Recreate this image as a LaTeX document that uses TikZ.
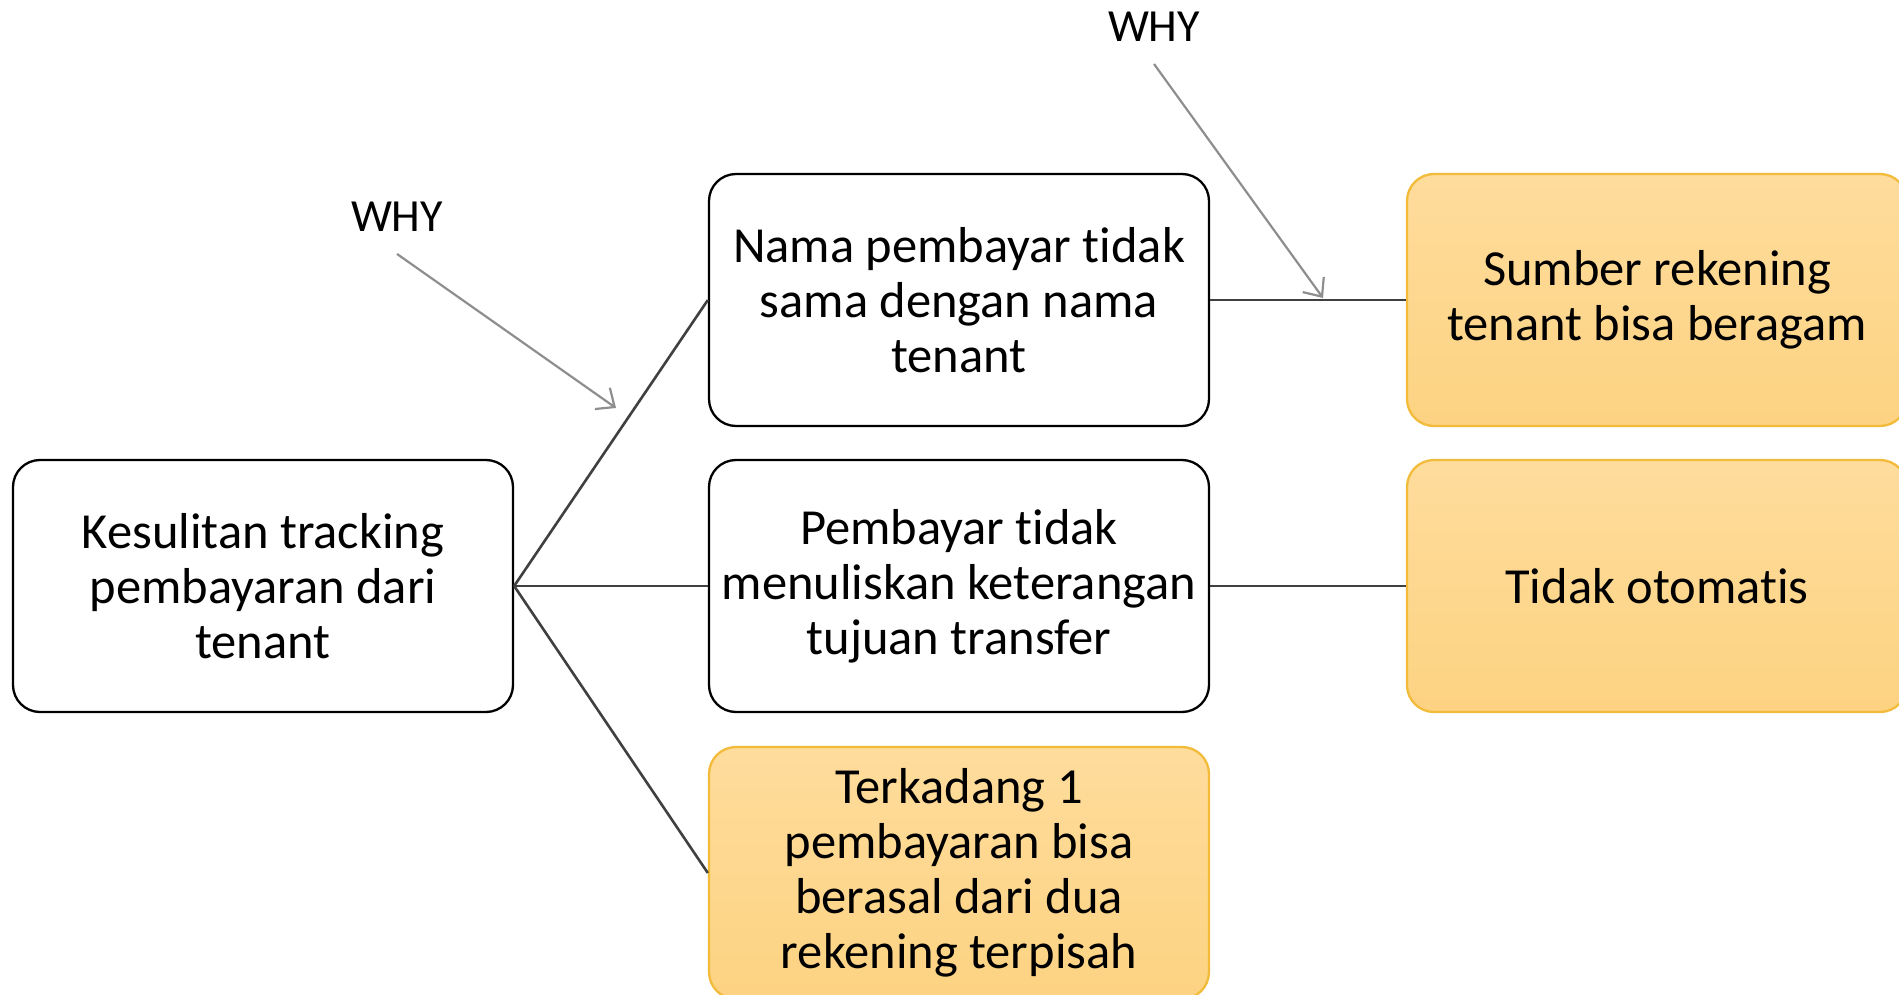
\documentclass[tikz,border=0pt]{standalone}
\usepackage{fontspec}
\setmainfont{Carlito}[Ligatures={CommonOff,ContextualOff,RareOff},Contextuals=AlternateOff]
\usetikzlibrary{arrows.meta}
\definecolor{ink}{HTML}{000000}
\definecolor{wire}{HTML}{404040}
\definecolor{hint}{HTML}{8E8E8E}
\definecolor{goldtop}{HTML}{FEDC9C}
\definecolor{goldbot}{HTML}{FDD382}
\definecolor{goldrim}{HTML}{F2BB3A}

\begin{document}
\begin{tikzpicture}[x=1pt,y=-1pt,text=ink,
  box/.style={draw=ink,line width=2.3pt,rounded corners=27pt,minimum width=500pt,
    minimum height=252pt,align=center,font=\fontsize{50.5}{55}\selectfont},
  goldbox/.style={box,draw=goldrim,top color=goldtop,bottom color=goldbot},
  why/.style={font=\fontsize{46}{50}\selectfont,inner sep=22pt},
  wiring/.style={wire,line width=2.6pt},
  whyarrow/.style={hint,line width=2.2pt,-{Straight Barb[length=15pt,width=26pt,line width=2.2pt]}}]
  \useasboundingbox (0,0) rectangle (1899,995);
  \node[box] (issue) at (263,586) {Kesulitan tracking\\pembayaran dari\\tenant};
  \node[box] (payer) at (959,300) {Nama pembayar tidak\\sama dengan nama\\tenant};
  \node[box] (note) at (959,586) {Pembayar tidak\\menuliskan keterangan\\tujuan transfer};
  \node[goldbox] (split) at (959,873) {Terkadang 1\\pembayaran bisa\\berasal dari dua\\rekening terpisah};
  \node[goldbox] (source) at (1657,300) {Sumber rekening\\tenant bisa beragam};
  \node[goldbox] (manual) at (1657,586) {Tidak otomatis};

  \draw[wiring] (issue.east) -- (payer.west);
  \draw[wiring] (issue.east) -- (note.west);
  \draw[wiring] (issue.east) -- (split.west);
  \draw[wiring] (payer.east) -- (source.west);
  \draw[wiring] (note.east) -- (manual.west);

  \node[why] (whyleft) at (397,217) {WHY};
  \node[why] (whyright) at (1154,27) {WHY};
  \coordinate (tipleft) at (616,408);
  \coordinate (tipright) at (1323,298);
  \draw[whyarrow] (whyleft.south) -- (tipleft);
  \draw[whyarrow] (whyright.south) -- (tipright);
\end{tikzpicture}
\end{document}
